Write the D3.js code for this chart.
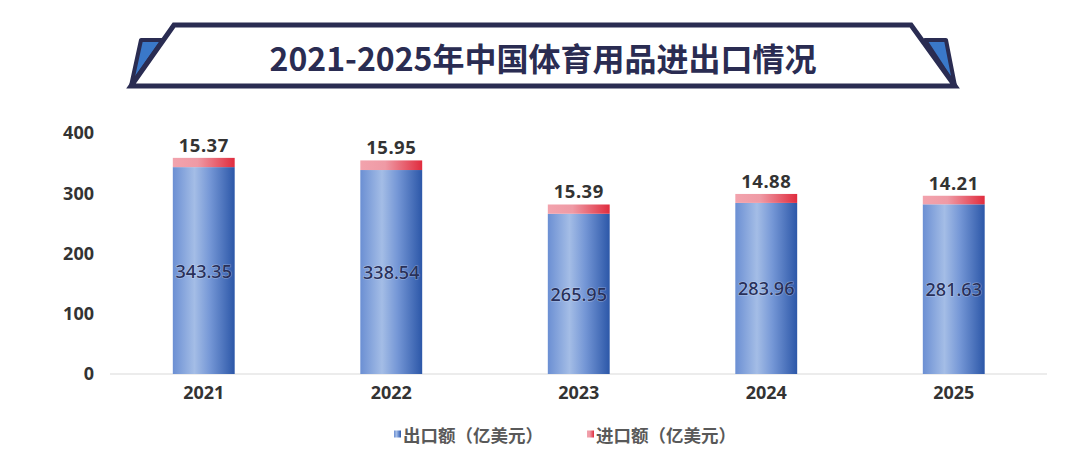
<!DOCTYPE html>
<html>
<head>
<meta charset="utf-8">
<script src="https://cdn.jsdelivr.net/npm/d3@7"></script>
<style>
  html, body { margin: 0; padding: 0; background: #fff; }
  svg { display: block; font-family: "Noto Sans CJK SC", "Noto Sans", sans-serif; }
</style>
</head>
<body>
<div id="chart"></div>
<script>
// 数据
const years = ["2021", "2022", "2023", "2024", "2025"];
const exportValues = [343.35, 338.54, 265.95, 283.96, 281.63];
const importValues = [15.37, 15.95, 15.39, 14.88, 14.21];
const yTicks = [0, 100, 200, 300, 400];
const seriesNames = ["出口额（亿美元）", "进口额（亿美元）"];
const title = "2021-2025年中国体育用品进出口情况";

const width = 1080, height = 456;
const navy = "#2a2c52";

const svg = d3.select("#chart").append("svg")
    .attr("width", width)
    .attr("height", height);

// 渐变
const defs = svg.append("defs");
function hGradient(id, stops) {
    const g = defs.append("linearGradient").attr("id", id)
        .attr("x1", "0%").attr("x2", "100%").attr("y1", "0%").attr("y2", "0%");
    stops.forEach(s => g.append("stop").attr("offset", s[0]).attr("stop-color", s[1]));
}
hGradient("blueGrad", [["0%", "#6b8fd3"], ["35%", "#a4bde6"], ["60%", "#7597d6"], ["100%", "#2c57a8"]]);
hGradient("redGrad", [["0%", "#f2a3ad"], ["40%", "#ef9aa5"], ["100%", "#e02c3e"]]);

// 标题横幅
const banner = svg.append("g");
banner.append("path")
    .attr("d", "M141,40 L163,40 L131,86 Z")
    .attr("fill", "#3a78c9").attr("stroke", navy).attr("stroke-width", 4).attr("stroke-linejoin", "round");
banner.append("path")
    .attr("d", "M925,40 L946,40 L955,86 Z")
    .attr("fill", "#3a78c9").attr("stroke", navy).attr("stroke-width", 4).attr("stroke-linejoin", "round");
banner.append("path")
    .attr("d", "M174,25 L911,25 L955,86 L131,86 Z")
    .attr("fill", "#fff").attr("stroke", navy).attr("stroke-width", 5).attr("stroke-linejoin", "miter");
banner.append("text")
    .attr("x", 543).attr("y", 57)
    .attr("text-anchor", "middle").attr("dominant-baseline", "central")
    .attr("font-size", 32).attr("font-weight", "bold")
    .attr("fill", navy)
    .text(title);

// 比例尺
const x = d3.scaleBand().domain(years).range([110, 1047.5]).paddingInner(0.67).paddingOuter(0.335);
const y = d3.scaleLinear().domain([0, 400]).range([374, 133]);

// 基线
svg.append("line")
    .attr("x1", 110).attr("x2", 1047).attr("y1", y(0)).attr("y2", y(0))
    .attr("stroke", "#d9d9d9").attr("stroke-width", 1);

// Y 轴
const yAxis = svg.append("g")
    .attr("transform", "translate(94,0)")
    .call(d3.axisLeft(y).tickValues(yTicks).tickSize(0).tickPadding(0));
yAxis.select(".domain").remove();
yAxis.selectAll("text")
    .attr("font-size", 18).attr("font-weight", "bold").attr("fill", "#333")
    .attr("font-family", "'Noto Sans', 'Open Sans', sans-serif");

// X 轴
const xAxis = svg.append("g")
    .attr("transform", `translate(0,${y(0)})`)
    .call(d3.axisBottom(x).tickSize(0).tickPadding(12));
xAxis.select(".domain").remove();
xAxis.selectAll("text")
    .attr("font-size", 18).attr("font-weight", "bold").attr("fill", "#333")
    .attr("font-family", "'Noto Sans', 'Open Sans', sans-serif");

// 柱子
const rows = years.map((yr, i) => ({ year: yr, exp: exportValues[i], imp: importValues[i] }));

const bars = svg.append("g").selectAll("g.bar")
    .data(rows)
    .join("g")
    .attr("class", "bar");

bars.append("rect")
    .attr("x", d => x(d.year))
    .attr("width", x.bandwidth())
    .attr("y", d => y(d.exp))
    .attr("height", d => y(0) - y(d.exp))
    .attr("fill", "url(#blueGrad)");

bars.append("rect")
    .attr("x", d => x(d.year))
    .attr("width", x.bandwidth())
    .attr("y", d => y(d.exp + d.imp))
    .attr("height", d => y(d.exp) - y(d.exp + d.imp))
    .attr("fill", "url(#redGrad)");

// 出口标签
bars.append("text")
    .attr("x", d => x(d.year) + x.bandwidth() / 2)
    .attr("y", d => (y(0) + y(d.exp)) / 2)
    .attr("text-anchor", "middle").attr("dominant-baseline", "central")
    .attr("font-size", 18).attr("font-weight", 500)
    .attr("font-family", "'Noto Sans', 'Open Sans', sans-serif")
    .attr("fill", "#28305a")
    .attr("stroke", "rgba(255,255,255,0.35)").attr("stroke-width", 1.2)
    .attr("paint-order", "stroke")
    .text(d => d.exp.toFixed(2));

// 进口标签
bars.append("text")
    .attr("x", d => x(d.year) + x.bandwidth() / 2)
    .attr("y", d => y(d.exp + d.imp) - 6)
    .attr("text-anchor", "middle")
    .attr("font-size", 18.5).attr("font-weight", "bold")
    .attr("letter-spacing", 0.5)
    .attr("font-family", "'Noto Sans', 'Open Sans', sans-serif")
    .attr("fill", "#333")
    .text(d => d.imp.toFixed(2));

// 图例
const legendX = [394, 587];
const legendFill = ["url(#blueGrad)", "url(#redGrad)"];
const legend = svg.append("g").selectAll("g.legend")
    .data(seriesNames)
    .join("g")
    .attr("class", "legend")
    .attr("transform", (d, i) => `translate(${legendX[i]},434)`);

legend.append("rect")
    .attr("x", 0).attr("y", -3.5)
    .attr("width", 7).attr("height", 7)
    .attr("fill", (d, i) => legendFill[i]);

legend.append("text")
    .attr("x", 9).attr("y", 0)
    .attr("dominant-baseline", "central")
    .attr("font-size", 17.5).attr("font-weight", "bold")
    .attr("fill", "#595959")
    .text(d => d);
</script>
</body>
</html>
